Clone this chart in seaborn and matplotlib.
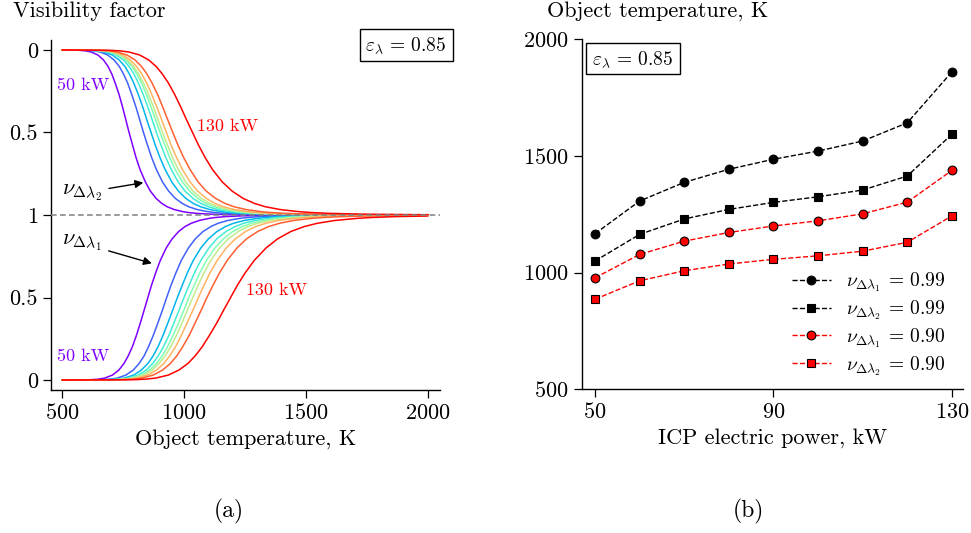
import numpy as np
import pandas as pd
import matplotlib
matplotlib.use("Agg")
import matplotlib.pyplot as plt
import seaborn as sns

# ICP electric power, kW
powers = [50, 60, 70, 80, 90, 100, 110, 120, 130]

# Visibility levels at which the curves of panel (a) are tabulated
levels = [0.0015, 0.005, 0.012, 0.03, 0.06, 0.1, 0.145, 0.2, 0.27, 0.35,
          0.425, 0.5, 0.575, 0.65, 0.725, 0.8, 0.855, 0.9, 0.93, 0.95,
          0.967, 0.98, 0.985, 0.99, 0.995, 0.998]

nan = float("nan")

# Object temperature (K) at which nu_{dl1} reaches each level (rows: powers)
t_levels_band1 = [
    [616, 650, 676, 707, 733, 754, 771, 788, 805, 822, 837, 852, 867, 884,
     903, 927, 951, 978, 1004, 1030, 1063, 1104, 1130, 1167, 1237, 1342],
    [659, 697, 727, 762, 792, 816, 836, 854, 874, 894, 912, 929, 947, 967,
     989, 1018, 1046, 1078, 1110, 1140, 1180, 1230, 1261, 1307, 1393, 1526],
    [684, 724, 756, 794, 825, 852, 873, 893, 914, 935, 954, 973, 993, 1014,
     1038, 1069, 1100, 1135, 1170, 1203, 1247, 1302, 1336, 1387, 1483, 1631],
    [697, 739, 772, 812, 845, 872, 894, 915, 938, 960, 980, 1000, 1021, 1043,
     1069, 1102, 1134, 1172, 1209, 1245, 1291, 1351, 1388, 1443, 1547, 1710],
    [707, 750, 784, 825, 859, 887, 910, 932, 955, 979, 1000, 1020, 1042, 1065,
     1092, 1127, 1161, 1200, 1239, 1277, 1326, 1389, 1428, 1486, 1597, 1771],
    [713, 757, 793, 834, 869, 898, 922, 945, 969, 993, 1014, 1036, 1058, 1082,
     1110, 1146, 1181, 1222, 1262, 1302, 1353, 1419, 1460, 1521, 1638, 1822],
    [726, 771, 808, 851, 887, 917, 941, 965, 989, 1014, 1037, 1059, 1082, 1107,
     1136, 1173, 1210, 1252, 1294, 1335, 1388, 1458, 1500, 1564, 1686, 1880],
    [744, 791, 829, 874, 912, 944, 970, 994, 1021, 1047, 1071, 1094, 1119, 1146,
     1177, 1217, 1256, 1302, 1347, 1392, 1450, 1525, 1572, 1642, 1777, 1993],
    [789, 842, 885, 936, 979, 1016, 1045, 1074, 1104, 1136, 1163, 1191, 1219, 1251,
     1288, 1336, 1383, 1438, 1493, 1547, 1619, 1713, 1771, 1860, nan, nan],
]

# Object temperature (K) at which nu_{dl2} reaches each level (rows: powers)
t_levels_band2 = [
    [566, 596, 619, 647, 670, 689, 704, 718, 734, 749, 762, 775, 789, 803,
     820, 842, 862, 886, 909, 931, 960, 996, 1018, 1050, 1110, 1200],
    [596, 629, 656, 687, 713, 735, 752, 769, 786, 804, 819, 834, 850, 867,
     887, 912, 937, 965, 993, 1019, 1054, 1098, 1124, 1164, 1238, 1352],
    [609, 645, 673, 706, 734, 758, 776, 794, 813, 832, 848, 865, 882, 901,
     923, 950, 977, 1008, 1038, 1068, 1106, 1155, 1185, 1230, 1314, 1445],
    [622, 658, 688, 722, 752, 775, 795, 813, 833, 853, 870, 887, 905, 925,
     948, 976, 1004, 1037, 1069, 1100, 1140, 1192, 1224, 1271, 1360, 1499],
    [629, 667, 697, 732, 762, 787, 807, 826, 846, 866, 884, 902, 921, 941,
     964, 994, 1023, 1057, 1090, 1123, 1165, 1219, 1252, 1301, 1395, 1541],
    [633, 672, 702, 738, 769, 794, 814, 834, 855, 876, 894, 912, 932, 952,
     977, 1007, 1037, 1072, 1106, 1140, 1183, 1239, 1274, 1325, 1423, 1576],
    [642, 681, 712, 749, 780, 806, 827, 847, 868, 890, 909, 928, 947, 969,
     994, 1025, 1056, 1092, 1127, 1162, 1207, 1265, 1301, 1354, 1456, 1616],
    [654, 694, 727, 766, 799, 826, 848, 869, 892, 914, 934, 954, 975, 998,
     1025, 1058, 1091, 1130, 1168, 1205, 1254, 1317, 1356, 1414, 1526, 1703],
    [692, 737, 774, 818, 855, 886, 911, 936, 962, 988, 1011, 1035, 1059, 1086,
     1117, 1157, 1197, 1243, 1289, 1334, 1394, 1472, 1520, 1593, 1735, 1967],
]

# Temperature range of panel (a) and the visibility reached at its upper end
t_start, t_end = 500, 2000
v_end_band1 = [1.0, 1.0, 1.0, 0.999, 0.999, 0.999, 0.999, 0.998, 0.994]
v_end_band2 = [1.0, 1.0, 1.0, 1.0, 1.0, 1.0, 0.999, 0.999, 0.998]

# Panel (b): object temperature (K) needed for a given visibility factor
t_nu1_099 = [1167, 1307, 1387, 1443, 1486, 1521, 1564, 1642, 1860]
t_nu2_099 = [1050, 1164, 1230, 1271, 1301, 1325, 1354, 1414, 1593]
t_nu1_090 = [978, 1078, 1135, 1172, 1200, 1222, 1252, 1302, 1438]
t_nu2_090 = [886, 965, 1008, 1037, 1057, 1072, 1092, 1130, 1243]

emissivity_label = r"$\varepsilon_\lambda \,=\, 0.85$"

# ---------------------------------------------------------------- style
sns.set_style("ticks")
plt.rcParams["font.family"] = "serif"
plt.rcParams["font.serif"] = ["cmr10", "DejaVu Serif"]
plt.rcParams["mathtext.fontset"] = "cm"
plt.rcParams["axes.unicode_minus"] = False
plt.rcParams["axes.formatter.use_mathtext"] = True
plt.rcParams["axes.edgecolor"] = "black"
plt.rcParams["axes.linewidth"] = 1.0
plt.rcParams["xtick.color"] = "black"
plt.rcParams["ytick.color"] = "black"
plt.rcParams["text.color"] = "black"
plt.rcParams["axes.labelcolor"] = "black"

W, H = 971, 533
fig = plt.figure(figsize=(W / 100, H / 100), dpi=100)


def px_box(x0, y0, x1, y1):
    """Axes rectangle given in figure pixels (origin top-left)."""
    return [x0 / W, 1 - y1 / H, (x1 - x0) / W, (y1 - y0) / H]


ax1 = fig.add_axes(px_box(51, 40, 440, 390))
ax2 = fig.add_axes(px_box(581.7, 39.3, 963, 389.3))

cmap = plt.get_cmap("rainbow")
palette = {p: cmap(i / (len(powers) - 1)) for i, p in enumerate(powers)}

# ---------------------------------------------------------------- panel (a)
rows = []
for band, table, ends in ((1, t_levels_band1, v_end_band1),
                          (2, t_levels_band2, v_end_band2)):
    for p, temps, v_last in zip(powers, table, ends):
        ts = [t_start] + list(temps) + [t_end]
        vs = [0.0] + list(levels) + [v_last]
        for t, v in zip(ts, vs):
            rows.append({"band": band, "power": p, "T": t, "nu": v})
curves = pd.DataFrame(rows).dropna()
# nu_{dl2} is drawn on the upper, reversed half of the axis
curves["y"] = np.where(curves["band"] == 2, 2 - curves["nu"], curves["nu"])

for band in (1, 2):
    sns.lineplot(data=curves[curves["band"] == band], x="T", y="y",
                 hue="power", hue_order=powers, palette=palette,
                 estimator=None, sort=False, lw=1.1, legend=False, ax=ax1)

ax1.axhline(1.0, color="0.5", lw=1.1, ls=(0, (3.7, 2.2)), zorder=3)

ax1.set_xlim(455, 2049)
ax1.set_ylim(-0.0606, 2.0606)
ax1.set_xticks([500, 1000, 1500, 2000])
ax1.set_yticks([0, 0.5, 1, 1.5, 2])
ax1.set_yticklabels(["0", "0.5", "1", "0.5", "0"])
ax1.set_xlabel("Object temperature, K", fontsize=16, labelpad=4)
ax1.set_ylabel("")

ax1.text(478, 1.785, "50 kW", color=palette[50], fontsize=13,
         ha="left", va="center")
ax1.text(1052, 1.535, "130 kW", color=palette[130], fontsize=13,
         ha="left", va="center")
ax1.text(478, 0.141, "50 kW", color=palette[50], fontsize=13,
         ha="left", va="center")
ax1.text(1254, 0.545, "130 kW", color=palette[130], fontsize=13,
         ha="left", va="center")

arrow = dict(arrowstyle="-|>", color="black", lw=1.0, shrinkA=3, shrinkB=0,
             mutation_scale=12)
ax1.annotate(r"$\nu_{\Delta\lambda_2}$", xy=(833, 1.196), xytext=(499, 1.133),
             fontsize=16, ha="left", va="center", arrowprops=arrow)
ax1.annotate(r"$\nu_{\Delta\lambda_1}$", xy=(868, 0.707), xytext=(499, 0.83),
             fontsize=16, ha="left", va="center", arrowprops=arrow)

ax1.text(0.913, 0.986, emissivity_label, transform=ax1.transAxes,
         fontsize=14, ha="center", va="center",
         bbox=dict(boxstyle="square,pad=0.3", fc="white", ec="black", lw=1.0))

# ---------------------------------------------------------------- panel (b)
series = [
    (t_nu1_099, "black", "o", 6.3, r"$\nu_{\Delta\lambda_1} \,=\, 0.99$"),
    (t_nu2_099, "black", "s", 5.8, r"$\nu_{\Delta\lambda_2} \,=\, 0.99$"),
    (t_nu1_090, "red", "o", 6.3, r"$\nu_{\Delta\lambda_1} \,=\, 0.90$"),
    (t_nu2_090, "red", "s", 5.8, r"$\nu_{\Delta\lambda_2} \,=\, 0.90$"),
]
for temps, color, marker, ms, label in series:
    sns.lineplot(x=powers, y=temps, color=color, ls="--", lw=1.0,
                 marker=marker, markersize=ms, markerfacecolor=color,
                 markeredgecolor="black", markeredgewidth=0.8,
                 label=label, ax=ax2)

ax2.set_xlim(47.0, 132.5)
ax2.set_ylim(500, 2000)
ax2.set_xticks([50, 90, 130])
ax2.set_yticks([500, 1000, 1500, 2000])
ax2.set_xlabel("ICP electric power, kW", fontsize=16, labelpad=4)
ax2.set_ylabel("")
ax2.legend(loc="lower right", bbox_to_anchor=(1.0, -0.017), frameon=False,
           fontsize=14, labelspacing=0.22)

ax2.text(0.1345, 0.945, emissivity_label, transform=ax2.transAxes,
         fontsize=14, ha="center", va="center",
         bbox=dict(boxstyle="square,pad=0.3", fc="white", ec="black", lw=1.0))

for ax in (ax1, ax2):
    sns.despine(ax=ax)
    ax.tick_params(axis="both", which="major", direction="out", length=6,
                   width=0.9, labelsize=16, pad=3.5)

# axis titles above the plots and panel captions
fig.text(13.3 / W, 1 - 16.7 / H, "Visibility factor", fontsize=16,
         ha="left", va="baseline")
fig.text(546.7 / W, 1 - 16.7 / H, "Object temperature, K", fontsize=16,
         ha="left", va="baseline")
fig.text(229 / W, 1 - 517 / H, "(a)", fontsize=17, ha="center", va="baseline")
fig.text(748.5 / W, 1 - 517 / H, "(b)", fontsize=17, ha="center", va="baseline")

fig.savefig("out.png", dpi=100)
